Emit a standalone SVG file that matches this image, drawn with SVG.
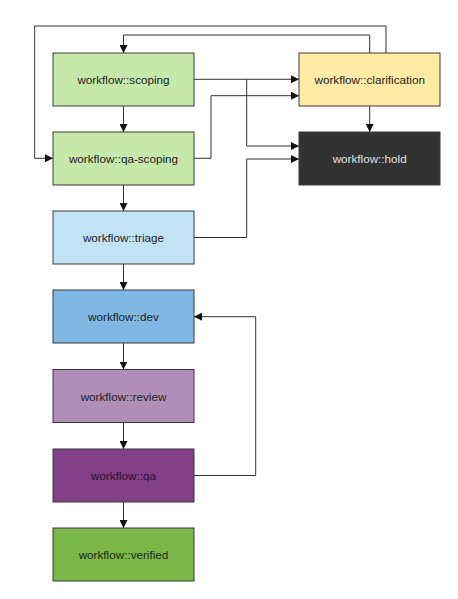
<svg xmlns="http://www.w3.org/2000/svg" width="458" height="599" viewBox="0 0 458 599">
<style>
.box{stroke:#3a3a3a;stroke-width:1}
.lbl{font-family:"Liberation Sans",Arial,sans-serif;font-size:11.7px;text-anchor:middle;dominant-baseline:central;fill:#222}
.lbl.light{fill:#e0e0e0}
.lbl.purple{fill:#2a1230}
.lbl.green{fill:#1e2a14}
.edge{fill:none;stroke:#333;stroke-width:1}
</style>
<defs>
<marker id="arr" viewBox="0 0 10 10" refX="10" refY="5" markerWidth="8" markerHeight="8" markerUnits="userSpaceOnUse" orient="auto">
<path d="M0,0 L10,5 L0,10 z" fill="#111"/>
</marker>
</defs>
<rect width="458" height="599" fill="#fff"/>
<g id="connectors">
<path class="edge" d="M386,53 V26 H34.7 V158.3 H53" marker-end="url(#arr)"/>
<path class="edge" d="M369.7,53 V35 H123.5 V53" marker-end="url(#arr)"/>
<path class="edge" d="M194,79.3 H299" marker-end="url(#arr)"/>
<path class="edge" d="M246.7,79.3 V146 H299" marker-end="url(#arr)"/>
<path class="edge" d="M194,158.3 H211 V95.7 H299" marker-end="url(#arr)"/>
<path class="edge" d="M194,237.5 H246.7 V159 H299" marker-end="url(#arr)"/>
<path class="edge" d="M369.7,106 V132" marker-end="url(#arr)"/>
<path class="edge" d="M194,475.5 H255.7 V316.7 H194" marker-end="url(#arr)"/>
<path class="edge" d="M123.5,106 V132" marker-end="url(#arr)"/>
<path class="edge" d="M123.5,185 V211" marker-end="url(#arr)"/>
<path class="edge" d="M123.5,264 V290" marker-end="url(#arr)"/>
<path class="edge" d="M123.5,343 V369.5" marker-end="url(#arr)"/>
<path class="edge" d="M123.5,422.5 V449" marker-end="url(#arr)"/>
<path class="edge" d="M123.5,502 V528" marker-end="url(#arr)"/>
</g>
<g id="scoping"><rect class="box" x="53" y="53" width="141" height="53" fill="#c6e8ab"/><text class="lbl" x="123.5" y="79.5">workflow::scoping</text></g>
<g id="qa-scoping"><rect class="box" x="53" y="132" width="141" height="53" fill="#c6e8ab"/><text class="lbl" x="123.5" y="158.5">workflow::qa-scoping</text></g>
<g id="triage"><rect class="box" x="53" y="211" width="141" height="53" fill="#c2e3f6"/><text class="lbl" x="123.5" y="237.5">workflow::triage</text></g>
<g id="dev"><rect class="box" x="53" y="290" width="141" height="53" fill="#80b8e4"/><text class="lbl" x="123.5" y="316.5">workflow::dev</text></g>
<g id="review"><rect class="box" x="53" y="369.5" width="141" height="53" fill="#b18eb8"/><text class="lbl" x="123.5" y="396">workflow::review</text></g>
<g id="qa"><rect class="box" x="53" y="449" width="141" height="53" fill="#824086"/><text class="lbl purple" x="123.5" y="475.5">workflow::qa</text></g>
<g id="verified"><rect class="box" x="53" y="528" width="141" height="53" fill="#7ab648"/><text class="lbl green" x="123.5" y="554.5">workflow::verified</text></g>
<g id="clarification"><rect class="box" x="299" y="53" width="141" height="53" fill="#ffeaa6"/><text class="lbl" x="369.7" y="79.5">workflow::clarification</text></g>
<g id="hold"><rect class="box" x="299" y="132" width="141" height="53" fill="#323232"/><text class="lbl light" x="369.7" y="158.5">workflow::hold</text></g>
</svg>
